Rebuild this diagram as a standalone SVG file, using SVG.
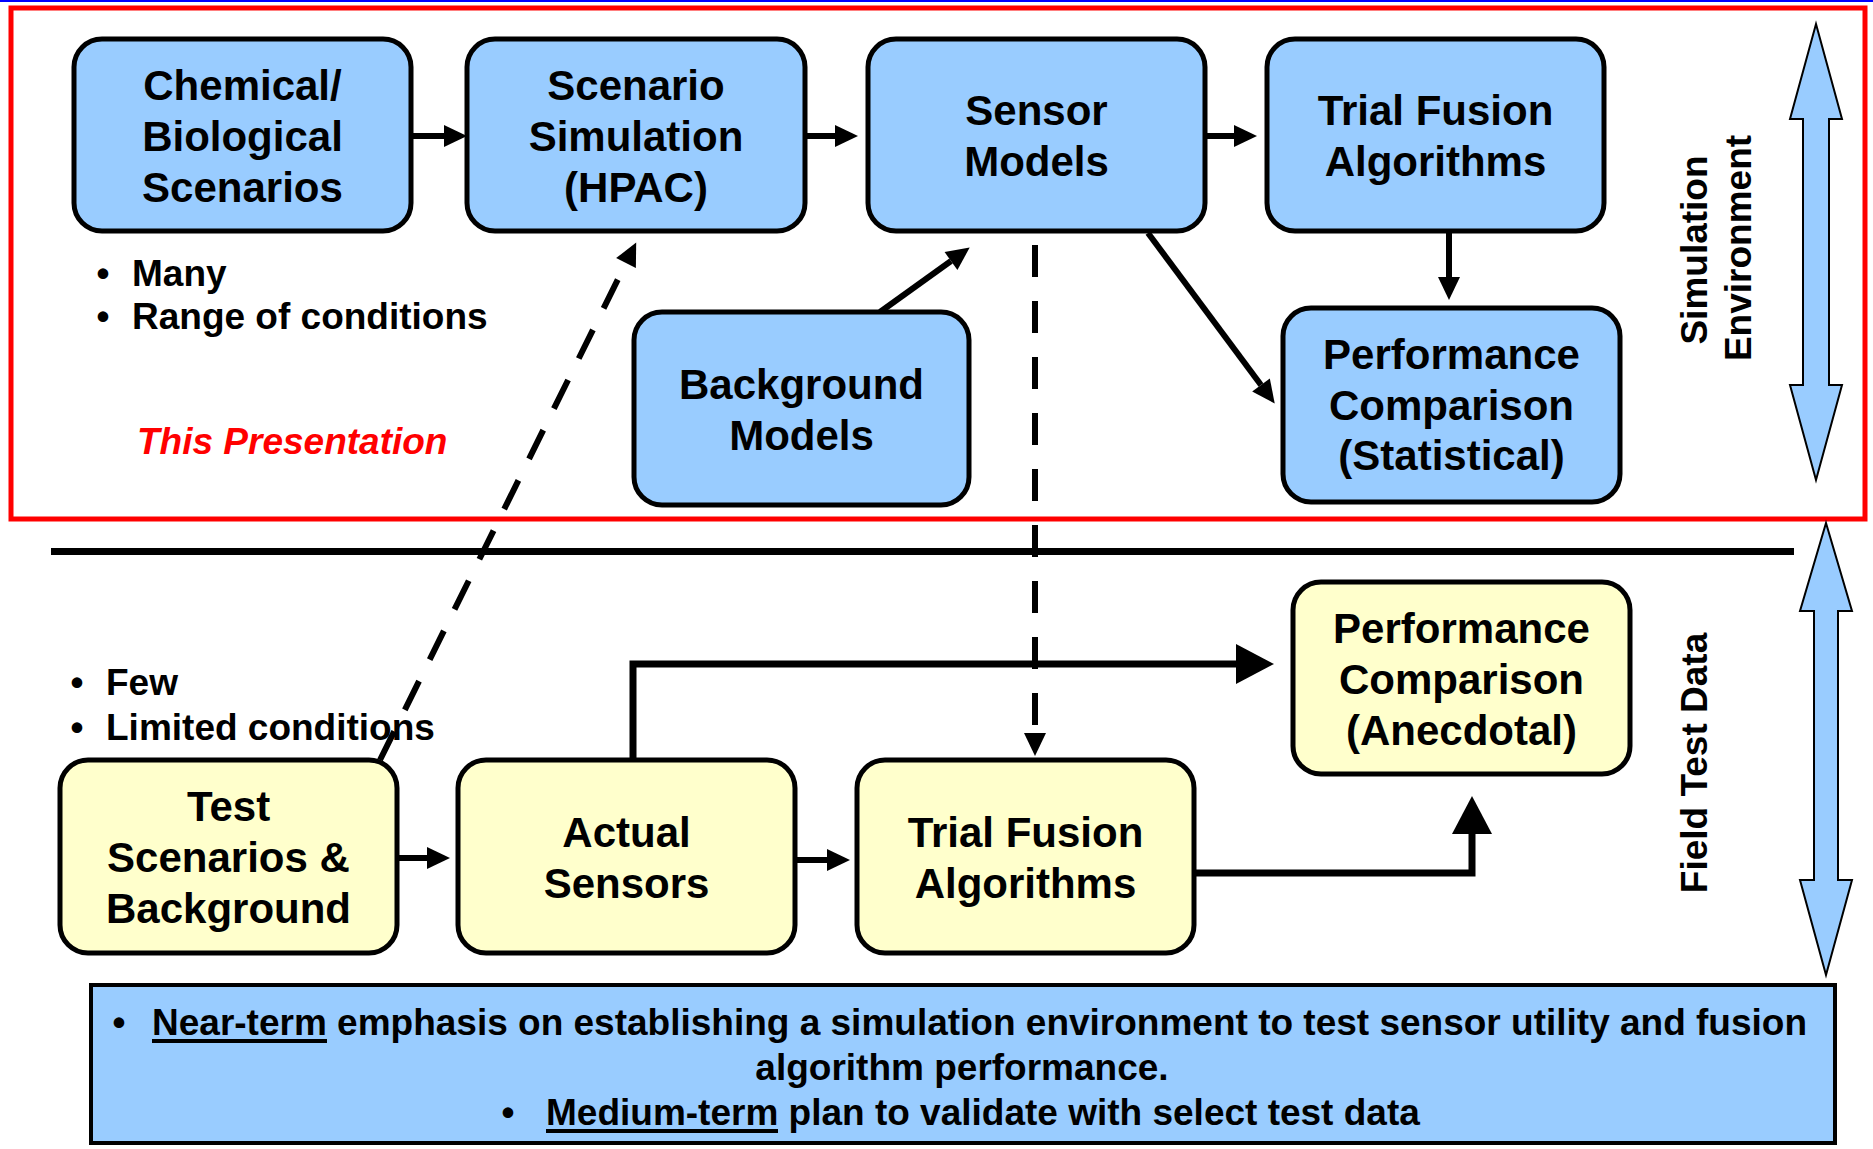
<svg xmlns="http://www.w3.org/2000/svg" width="1873" height="1149" viewBox="0 0 1873 1149">
<style>
text{font-family:"Liberation Sans",Arial,sans-serif;font-weight:bold;fill:#000}
.nt{font-size:42px;text-anchor:middle}
.bl{font-size:37px}
.vt{font-size:37px;text-anchor:middle}
.bt{font-size:37px}
.box{stroke:#000;stroke-width:5}
.sim{fill:#99CCFF}
.fld{fill:#FFFFCC}
.con{fill:none;stroke:#000;stroke-width:7}
.thin{stroke-width:6}
.dash{fill:none;stroke:#000;stroke-width:6;stroke-dasharray:32 24}
.dbl{fill:#99CCFF;stroke:#000;stroke-width:2}
.ul{stroke:#000;stroke-width:4}
</style>
<defs>
<marker id="ah" markerUnits="userSpaceOnUse" markerWidth="30" markerHeight="30" viewBox="0 -15 30 30" refX="0" refY="0" orient="auto" overflow="visible"><path d="M0,-11 L23,0 L0,11 Z" fill="#000"/></marker>
<marker id="ahb" markerUnits="userSpaceOnUse" markerWidth="44" markerHeight="44" viewBox="0 -22 44 44" refX="0" refY="0" orient="auto" overflow="visible"><path d="M0,-20 L38,0 L0,20 Z" fill="#000"/></marker>
</defs>
<rect x="0" y="0" width="1873" height="1149" fill="#fff"/>
<rect x="0" y="0" width="1873" height="2" fill="#0000FF"/>
<rect id="sim-frame" x="11" y="8" width="1854" height="511" fill="none" stroke="#FF0000" stroke-width="5"/>
<line id="separator" x1="51" y1="551.5" x2="1794" y2="551.5" stroke="#000" stroke-width="7"/>

<g id="connectors">
<path class="con thin" d="M411,136 H444" marker-end="url(#ah)"/>
<path class="con thin" d="M805,136 H835" marker-end="url(#ah)"/>
<path class="con thin" d="M1205,136 H1234" marker-end="url(#ah)"/>
<path class="con thin" d="M1449,232 V277" marker-end="url(#ah)"/>
<path class="con thin" d="M1148,233 L1261,385" marker-end="url(#ah)"/>
<path class="con thin" d="M880,312 L951,261" marker-end="url(#ah)"/>
<path class="dash" d="M1035,245 V733" marker-end="url(#ah)"/>
<path class="dash" d="M380,760 L626,263" marker-end="url(#ah)"/>
<path class="con thin" d="M397,858 H427" marker-end="url(#ah)"/>
<path class="con thin" d="M795,860 H827" marker-end="url(#ah)"/>
<path class="con" d="M633,760 V664 H1236" marker-end="url(#ahb)"/>
<path class="con" d="M1193,873 H1472 V834" marker-end="url(#ahb)"/>
</g>

<g id="n-chem"><rect class="box sim" x="74" y="39" width="337" height="192" rx="28"/>
<text class="nt" x="242.5" y="100">Chemical/</text><text class="nt" x="242.5" y="151">Biological</text><text class="nt" x="242.5" y="201.5">Scenarios</text></g>
<g id="n-scen"><rect class="box sim" x="467" y="39" width="338" height="192" rx="28"/>
<text class="nt" x="636" y="100">Scenario</text><text class="nt" x="636" y="151">Simulation</text><text class="nt" x="636" y="201.5">(HPAC)</text></g>
<g id="n-sensor"><rect class="box sim" x="868" y="39" width="337" height="192" rx="28"/>
<text class="nt" x="1036.5" y="125">Sensor</text><text class="nt" x="1036.5" y="176">Models</text></g>
<g id="n-trial-sim"><rect class="box sim" x="1267" y="39" width="337" height="192" rx="28"/>
<text class="nt" x="1435.5" y="125">Trial Fusion</text><text class="nt" x="1435.5" y="176">Algorithms</text></g>
<g id="n-perf-stat"><rect class="box sim" x="1283" y="308" width="337" height="194" rx="28"/>
<text class="nt" x="1451.5" y="368.5">Performance</text><text class="nt" x="1451.5" y="419.5">Comparison</text><text class="nt" x="1451.5" y="470">(Statistical)</text></g>
<g id="n-bg"><rect class="box sim" x="634" y="312" width="335" height="193" rx="28"/>
<text class="nt" x="801.5" y="398.5">Background</text><text class="nt" x="801.5" y="449.5">Models</text></g>

<g id="n-test"><rect class="box fld" x="60" y="760" width="337" height="193" rx="28"/>
<text class="nt" x="228.5" y="821">Test</text><text class="nt" x="228.5" y="872">Scenarios &amp;</text><text class="nt" x="228.5" y="922.5">Background</text></g>
<g id="n-actual"><rect class="box fld" x="458" y="760" width="337" height="193" rx="28"/>
<text class="nt" x="626.5" y="846.5">Actual</text><text class="nt" x="626.5" y="897.5">Sensors</text></g>
<g id="n-trial-field"><rect class="box fld" x="857" y="760" width="337" height="193" rx="28"/>
<text class="nt" x="1025.5" y="846.5">Trial Fusion</text><text class="nt" x="1025.5" y="897.5">Algorithms</text></g>
<g id="n-perf-anec"><rect class="box fld" x="1293" y="582" width="337" height="192" rx="28"/>
<text class="nt" x="1461.5" y="643">Performance</text><text class="nt" x="1461.5" y="694">Comparison</text><text class="nt" x="1461.5" y="744.5">(Anecdotal)</text></g>

<g id="notes">
<text class="bl" x="103" y="286" text-anchor="middle">•</text><text class="bl" x="132" y="286">Many</text>
<text class="bl" x="103" y="329" text-anchor="middle">•</text><text class="bl" x="132" y="329">Range of conditions</text>
<text class="bl" x="137" y="454" font-style="italic" style="fill:#FF0000">This Presentation</text>
<text class="bl" x="77" y="695" text-anchor="middle">•</text><text class="bl" x="106" y="695">Few</text>
<text class="bl" x="77" y="740" text-anchor="middle">•</text><text class="bl" x="106" y="740">Limited conditions</text>
</g>

<g id="side-labels">
<polygon class="dbl" points="1816,24 1842,119 1829,119 1829,385 1842,385 1816,480 1790,385 1803,385 1803,119 1790,119"/>
<polygon class="dbl" points="1826,523 1852,611 1838,611 1838,880 1852,880 1826,975 1800,880 1814,880 1814,611 1800,611"/>
<text class="vt" transform="translate(1707,250) rotate(-90)">Simulation</text>
<text class="vt" transform="translate(1751,248) rotate(-90)">Environment</text>
<text class="vt" transform="translate(1707,763) rotate(-90)">Field Test Data</text>
</g>

<g id="summary">
<rect x="91" y="985" width="1744" height="158" fill="#99CCFF" stroke="#000" stroke-width="4"/>
<text class="bt" x="119" y="1035" text-anchor="middle">•</text>
<text class="bt" x="152" y="1035">Near-term emphasis on establishing a simulation environment to test sensor utility and fusion</text>
<line class="ul" x1="152" y1="1041" x2="327" y2="1041"/>
<text class="bt" x="962" y="1080" text-anchor="middle">algorithm performance.</text>
<text class="bt" x="508" y="1125" text-anchor="middle">•</text>
<text class="bt" x="546" y="1125">Medium-term plan to validate with select test data</text>
<line class="ul" x1="546" y1="1131" x2="778" y2="1131"/>
</g>
</svg>
